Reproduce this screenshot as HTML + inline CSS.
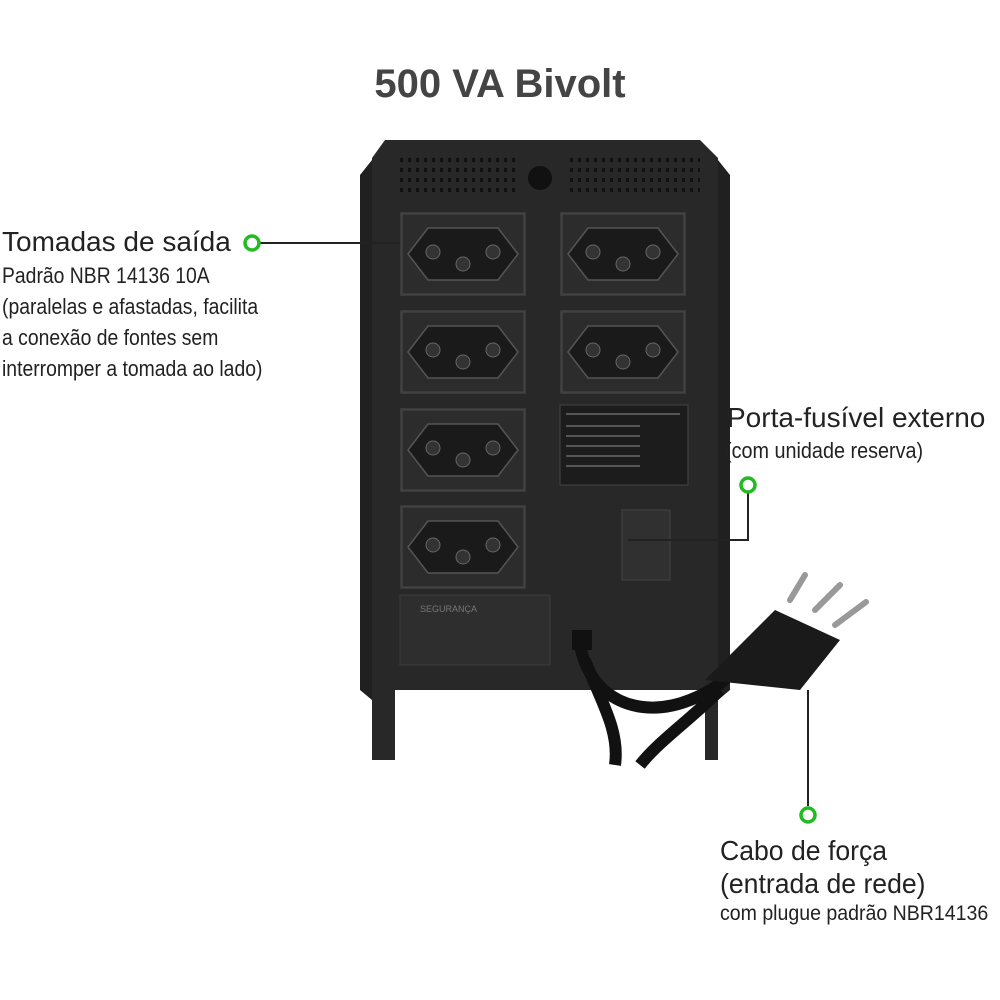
<!DOCTYPE html>
<html><head><meta charset="utf-8">
<style>
body{margin:0;width:1000px;height:1000px;background:#fff;position:relative;overflow:hidden;font-family:"Liberation Sans",sans-serif}
.t{position:absolute;white-space:nowrap;color:#222;transform-origin:left top}
</style></head><body>
<div style="position:absolute;left:0;width:1000px;top:62px;text-align:center;font-size:40px;font-weight:bold;color:#444">500 VA Bivolt</div>

<svg width="1000" height="1000" style="position:absolute;left:0;top:0">
<defs>
<g id="out">
<rect x="0" y="0" width="126" height="84" fill="#3a3a3a"/>
<rect x="2" y="2" width="122" height="80" fill="#2c2c2c" stroke="#4a4a4a"/>
<path d="M8 42 L28 16 H98 L118 42 L98 68 H28 Z" fill="#1a1a1a" stroke="#555" stroke-width="1.5"/>
<circle cx="33" cy="40" r="7" fill="#333" stroke="#666"/><circle cx="93" cy="40" r="7" fill="#333" stroke="#666"/><circle cx="63" cy="52" r="7" fill="#333" stroke="#666"/>
</g>
</defs>
<path d="M385 140 H700 L718 158 V760 H705 V690 H395 V760 H372 V158 Z" fill="#282828"/>
<path d="M372 160 L360 175 V690 L372 700 Z M718 160 L730 175 V690 L718 700 Z" fill="#202020"/>
<circle cx="540" cy="178" r="12" fill="#111"/>
<g stroke="#111" stroke-width="4" stroke-dasharray="3 5">
<line x1="400" y1="160" x2="520" y2="160"/><line x1="400" y1="170" x2="520" y2="170"/><line x1="400" y1="180" x2="520" y2="180"/><line x1="400" y1="190" x2="520" y2="190"/>
<line x1="570" y1="160" x2="700" y2="160"/><line x1="570" y1="170" x2="700" y2="170"/><line x1="570" y1="180" x2="700" y2="180"/><line x1="570" y1="190" x2="700" y2="190"/>
</g>
<use href="#out" x="400" y="212"/>
<use href="#out" x="560" y="212"/>
<use href="#out" x="400" y="310"/>
<use href="#out" x="560" y="310"/>
<use href="#out" x="400" y="408"/>
<use href="#out" x="400" y="505"/>
<rect x="560" y="405" width="128" height="80" fill="#1c1c1c" stroke="#444"/>
<g stroke="#555" stroke-width="2"><line x1="566" y1="414" x2="680" y2="414"/><line x1="566" y1="426" x2="640" y2="426"/><line x1="566" y1="436" x2="640" y2="436"/><line x1="566" y1="446" x2="640" y2="446"/><line x1="566" y1="456" x2="640" y2="456"/><line x1="566" y1="466" x2="640" y2="466"/></g>
<rect x="622" y="510" width="48" height="70" fill="#303030" stroke="#444"/>
<rect x="400" y="595" width="150" height="70" fill="#2e2e2e" stroke="#3c3c3c"/>
<text x="420" y="612" font-size="9" fill="#777" font-family="Liberation Sans">SEGURANÇA</text>
<path d="M580 645 C590 700 640 720 690 700 C740 680 730 660 760 650" stroke="#111" stroke-width="12" fill="none"/>
<path d="M585 660 C600 700 620 730 615 765" stroke="#111" stroke-width="12" fill="none"/>
<rect x="572" y="630" width="20" height="20" fill="#111"/>
<g stroke="#999" stroke-width="6" stroke-linecap="round"><line x1="790" y1="600" x2="805" y2="575"/><line x1="815" y1="610" x2="840" y2="585"/><line x1="835" y1="625" x2="866" y2="602"/></g>
<path d="M705 680 L775 610 L840 640 L800 690 Z" fill="#1a1a1a"/>
<path d="M640 765 C660 740 690 720 720 690" stroke="#111" stroke-width="12" fill="none"/>
<g stroke="#222" stroke-width="2" fill="none">
<line x1="260" y1="243" x2="400" y2="243"/>
<polyline points="748,493 748,540 628,540"/>
<line x1="808" y1="806" x2="808" y2="690"/>
</g>
<g fill="#fff" stroke="#22bb22" stroke-width="3.5">
<circle cx="252" cy="243" r="7"/><circle cx="748" cy="485" r="7"/><circle cx="808" cy="815" r="7"/>
</g>
</svg>

<div class="t" style="left:2px;top:226px;font-size:28px">Tomadas de saída</div>
<div class="t" style="left:2px;top:260px;font-size:22px;line-height:31px;transform:scaleX(0.88)">Padrão NBR 14136 10A<br>(paralelas e afastadas, facilita<br>a conexão de fontes sem<br>interromper a tomada ao lado)</div>
<div class="t" style="left:727px;top:402px;font-size:28px">Porta-fusível externo</div>
<div class="t" style="left:725px;top:438px;font-size:22px;transform:scaleX(0.9)">(com unidade reserva)</div>
<div class="t" style="left:720px;top:834px;font-size:28px;line-height:33px;transform:scaleX(0.95)">Cabo de força<br>(entrada de rede)</div>
<div class="t" style="left:720px;top:902px;font-size:21px;transform:scaleX(0.93)">com plugue padrão NBR14136</div>
</body></html>
